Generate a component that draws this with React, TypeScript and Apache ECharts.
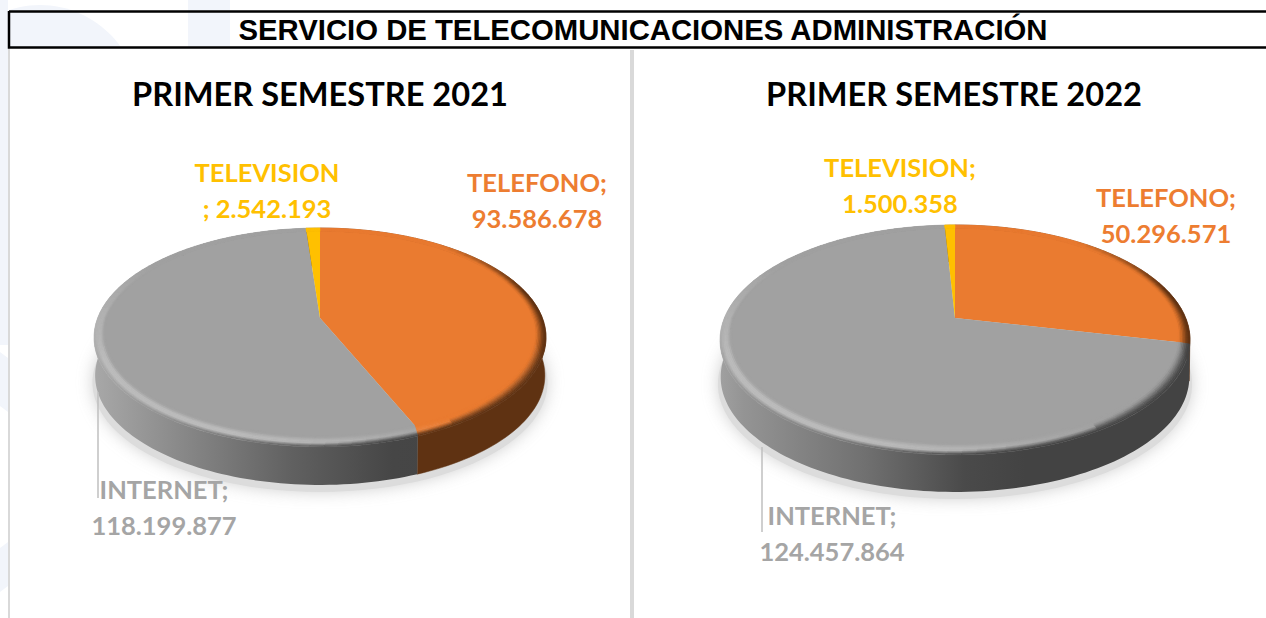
import React, { useEffect, useRef } from "react";
import * as echarts from "echarts";

const categories = ["TELEFONO", "INTERNET", "TELEVISION"];
const values2021 = [93586678, 118199877, 2542193];
const values2022 = [50296571, 124457864, 1500358];
const mainTitle = "SERVICIO DE TELECOMUNICACIONES ADMINISTRACIÓN";
const subTitles = ["PRIMER SEMESTRE 2021", "PRIMER SEMESTRE 2022"];

const faceColors = ["#EA7B30", "#A1A1A1", "#FFC000"];
const labelColors = ["#ED7D31", "#A5A5A5", "#FFC000"];
const sideDark = ["#5F3212", "", "#7F6000"];
const PALE = "#F2F5FB";

const fmt = (v: number) => String(v).replace(/\B(?=(\d{3})+(?!\d))/g, ".");

type Stop = [number, string];
type Pie = {
  values: number[];
  cx: number; cy: number; a: number; b: number; k: number;
  depth: number; squeeze: number; twist: number;
  xMin: number; xMax: number;
  greyStops: Stop[];
  labels: { x: number; y: number; lines: string[] }[];
  leader: number[];
  titleX: number;
};

const pies: Pie[] = [
  {
    values: values2021,
    cx: 320, cy: 318, a: 222.4, b: 106, k: 0.178, depth: 38, squeeze: 0.995, twist: 1.4,
    xMin: 94, xMax: 546,
    greyStops: [[0, "#A8A8A8"], [0.1, "#989898"], [0.22, "#848484"], [0.44, "#606060"], [0.66, "#464646"], [1, "#434343"]],
    labels: [
      { x: 537, y: 182, lines: [categories[0] + ";", fmt(values2021[0])] },
      { x: 164, y: 489, lines: [categories[1] + ";", fmt(values2021[1])] },
      { x: 267, y: 172, lines: [categories[2], "; " + fmt(values2021[2])] },
    ],
    leader: [98, 392, 98, 498],
    titleX: 320,
  },
  {
    values: values2022,
    cx: 955, cy: 318, a: 230.7, b: 110.8, k: 0.191, depth: 37, squeeze: 0.997, twist: 1.4,
    xMin: 720, xMax: 1190,
    greyStops: [[0, "#A0A0A0"], [0.05, "#949494"], [0.31, "#707070"], [0.52, "#4A4A4A"], [0.65, "#434343"], [1, "#434343"]],
    labels: [
      { x: 1166, y: 197, lines: [categories[0] + ";", fmt(values2022[0])] },
      { x: 832, y: 515, lines: [categories[1] + ";", fmt(values2022[1])] },
      { x: 900, y: 167, lines: [categories[2] + ";", fmt(values2022[2])] },
    ],
    leader: [762, 447, 762, 532],
    titleX: 954,
  },
];

const RIM_INNER = 0.955;
const RIM_BANDS = 8;
const RIM_STEP = 3;

const clamp = (x: number) => Math.max(0, Math.min(1, x));
const smooth = (e0: number, e1: number, x: number) => {
  const t = clamp((x - e0) / (e1 - e0));
  return t * t * (3 - 2 * t);
};
const rgb = (hex: string) => [
  parseInt(hex.slice(1, 3), 16),
  parseInt(hex.slice(3, 5), 16),
  parseInt(hex.slice(5, 7), 16),
];
const mix = (c1: number[], c2: number[], t: number) => c1.map((c, i) => c + (c2[i] - c) * t);
const css = (c: number[]) => `rgb(${Math.round(c[0])},${Math.round(c[1])},${Math.round(c[2])})`;

function project(p: Pie, deg: number, r: number): [number, number] {
  const th = (deg * Math.PI) / 180;
  const u = r * Math.sin(th);
  const v = -r * Math.cos(th);
  const w = 1 - p.k * v;
  return [p.cx + (p.a * u) / w, p.cy + (p.b * v) / w];
}
// near the front the slice border leans slightly on the rim
function twisted(p: Pie, deg: number, t: number) {
  return deg + p.twist * t * Math.max(-Math.cos((deg * Math.PI) / 180), 0);
}
function innerR(deg: number) {
  return RIM_INNER - 0.03 * Math.max(-Math.cos((deg * Math.PI) / 180), 0);
}
function lower(p: Pie, pt: [number, number]): [number, number] {
  return [p.cx + (pt[0] - p.cx) * p.squeeze, pt[1] + p.depth];
}
function sliceAngles(p: Pie, i: number): [number, number] {
  const total = p.values.reduce((s, v) => s + v, 0);
  let acc = 0;
  for (let j = 0; j < i; j++) acc += p.values[j];
  return [(acc / total) * 360, ((acc + p.values[i]) / total) * 360];
}
function steps(a0: number, a1: number, step: number) {
  const out: number[] = [];
  const n = Math.max(1, Math.ceil((a1 - a0) / step));
  for (let s = 0; s <= n; s++) out.push(a0 + ((a1 - a0) * s) / n);
  return out;
}
function greyAt(p: Pie, x: number) {
  const f = clamp((x - p.xMin) / (p.xMax - p.xMin));
  const st = p.greyStops;
  for (let i = 1; i < st.length; i++) {
    if (f <= st[i][0]) {
      return mix(rgb(st[i - 1][1]), rgb(st[i][1]), (f - st[i - 1][0]) / (st[i][0] - st[i - 1][0]));
    }
  }
  return rgb(st[st.length - 1][1]);
}
function rimColor(p: Pie, i: number, deg: number, t: number, x: number) {
  const th = (deg * Math.PI) / 180;
  const u = Math.sin(th);
  const v = -Math.cos(th);
  const face = rgb(faceColors[i]);
  const side = i === 1 ? greyAt(p, x) : rgb(sideDark[i]);
  const hl = clamp(Math.cos(th - (225 * Math.PI) / 180) * 1.4 - 0.3);
  const lit = mix(face, [255, 255, 255], 0.27 * hl * smooth(0.1, 0.5, t));
  const d = clamp(Math.max(v * 2.5, v + Math.max(u, 0) * 1.3));
  const t0 = 0.65 - 0.65 * clamp(u);
  const dark = d * smooth(hl > 0 ? Math.max(t0, 0.5) : t0, 1, t);
  return css(mix(lit, side, dark));
}

function renderLayer(p: Pie, layer: string) {
  return (params: any, api: any) => {
    const i = api.value(0);
    const [a0, a1] = sliceAngles(p, i);
    if (layer === "shadow") {
      if (i !== 0) return { type: "group", children: [] };
      const pts = steps(0, 360, 3).map((d) => {
        const l = lower(p, project(p, d, 1));
        return [p.cx + (l[0] - p.cx) * 1.012, l[1] + 7];
      });
      return {
        type: "polygon",
        shape: { points: pts },
        style: { fill: "#DCDCDC", shadowBlur: 16, shadowColor: "#D0D0D0" },
        silent: true,
      };
    }
    if (layer === "side") {
      const top = steps(a0, a1, 1.5).map((d) => project(p, twisted(p, d, 1), 1));
      const bottom = top.map((q) => lower(p, q)).reverse();
      const fill =
        i === 1
          ? new echarts.graphic.LinearGradient(
              p.xMin, 0, p.xMax, 0,
              p.greyStops.map(([offset, color]) => ({ offset, color })),
              true
            )
          : sideDark[i];
      const c = i === 1 ? undefined : sideDark[i];
      return {
        type: "polygon",
        shape: { points: top.concat(bottom) },
        style: { fill, stroke: c, lineWidth: c ? 0.5 : 0 },
        silent: true,
      };
    }
    if (layer === "top") {
      const edge = steps(a0, a1, 1.5).map((d) => project(p, d, RIM_INNER + 0.002));
      return {
        type: "polygon",
        shape: { points: [[p.cx, p.cy] as [number, number]].concat(edge) },
        style: { fill: faceColors[i] },
        silent: true,
      };
    }
    // bevelled rim, one small quad per angular step and radial band
    const children: any[] = [];
    const ds = steps(a0, a1, RIM_STEP);
    const at = (d: number, t: number) => {
      const r0 = innerR(d);
      return project(p, twisted(p, d, t), r0 + (1 - r0) * t);
    };
    for (let b = 0; b < RIM_BANDS; b++) {
      const t0 = b / RIM_BANDS;
      const t1 = (b + 1) / RIM_BANDS;
      for (let s = 0; s < ds.length - 1; s++) {
        const d0 = ds[s];
        const d1 = ds[s + 1];
        const mid = (d0 + d1) / 2;
        const c = rimColor(p, i, mid, (t0 + t1) / 2, at(mid, t1)[0]);
        children.push({
          type: "polygon",
          shape: { points: [at(d0, t0), at(d1, t0), at(d1, t1), at(d0, t1)] },
          style: { fill: c, stroke: c, lineWidth: 0.6 },
          silent: true,
        });
      }
    }
    return { type: "group", children };
  };
}

function buildSeries(): any[] {
  const out: any[] = [];
  const layers = ["shadow", "side", "top", "rim"];
  pies.forEach((p, pi) => {
    layers.forEach((layer, li) => {
      out.push({
        type: "custom",
        name: `${subTitles[pi]} ${layer}`,
        coordinateSystem: "none",
        z: 2 + li,
        silent: true,
        renderItem: renderLayer(p, layer),
        data: p.values.map((v, i) => ({ name: categories[i], value: [i, v] })),
      });
    });
  });
  return out;
}

function buildGraphic(): any[] {
  const bg: any[] = [
    { type: "rect", z: 0, shape: { x: 0, y: 0, width: 8, height: 345 }, style: { fill: PALE } },
    { type: "polygon", z: 0, shape: { points: [[0, 352], [8, 358], [8, 412], [0, 406]] }, style: { fill: PALE } },
    { type: "polygon", z: 0, shape: { points: [[0, 548], [8, 542], [8, 586], [0, 592]] }, style: { fill: PALE } },
    { type: "ellipse", z: 0, shape: { cx: 40, cy: 112, rx: 102, ry: 107 }, style: { fill: PALE } },
    { type: "rect", z: 0, shape: { x: 188, y: 0, width: 42, height: 48 }, style: { fill: PALE } },
    // white panel under the title box
    { type: "rect", z: 1, shape: { x: 9, y: 48, width: 1257, height: 570 }, style: { fill: "#FFFFFF" } },
    { type: "line", z: 1, shape: { x1: 9, y1: 48, x2: 9, y2: 618 }, style: { stroke: "#D9D9D9", lineWidth: 2 } },
    { type: "line", z: 1, shape: { x1: 632, y1: 50, x2: 632, y2: 618 }, style: { stroke: "#D9D9D9", lineWidth: 4 } },
    {
      type: "polyline", z: 8,
      shape: { points: [[9, 11.5], [1266, 11.5]] },
      style: { stroke: "#000", lineWidth: 2.5, fill: "none" },
    },
    {
      type: "polyline", z: 8,
      shape: { points: [[9, 11], [9, 47.5], [1266, 47.5]] },
      style: { stroke: "#000", lineWidth: 2.5, fill: "none" },
    },
  ];
  pies.forEach((p) => {
    const [x1, y1, x2, y2] = p.leader;
    bg.push({ type: "line", z: 9, shape: { x1, y1, x2, y2 }, style: { stroke: "#BFBFBF", lineWidth: 1.5 } });
    p.labels.forEach((l, i) => {
      l.lines.forEach((line, li) => {
        bg.push({
          type: "text",
          z: 10,
          x: l.x,
          y: l.y + li * 36,
          style: {
            text: line,
            fill: labelColors[i],
            font: "bold 25.5px Lato",
            align: "center",
            verticalAlign: "middle",
          },
        });
      });
    });
  });
  return bg;
}

function buildTitles(): any[] {
  return [
    {
      text: mainTitle,
      left: 643,
      top: 29,
      textAlign: "center",
      textVerticalAlign: "middle",
      padding: 0,
      textStyle: { fontFamily: "Liberation Sans", fontWeight: "bold", fontSize: 29.3, color: "#000" },
      z: 20,
    },
    ...subTitles.map((t, i) => ({
      text: t,
      left: pies[i].titleX,
      top: 93,
      textAlign: "center",
      textVerticalAlign: "middle",
      padding: 0,
      textStyle: { fontFamily: "Lato", fontWeight: "bold", fontSize: 32.6, color: "#000" },
      z: 20,
    })),
  ];
}

export default function App() {
  const ref = useRef<HTMLDivElement>(null);
  useEffect(() => {
    if (!ref.current) return;
    const chart = echarts.init(ref.current, undefined, { renderer: "svg" });
    chart.setOption({
      animation: false,
      backgroundColor: "#FFFFFF",
      title: buildTitles(),
      graphic: { elements: buildGraphic() },
      series: buildSeries(),
    });
    return () => chart.dispose();
  }, []);
  return (
    <div
      ref={ref}
      style={{ position: "absolute", left: 0, top: 0, width: 1266, height: 618 }}
    />
  );
}
